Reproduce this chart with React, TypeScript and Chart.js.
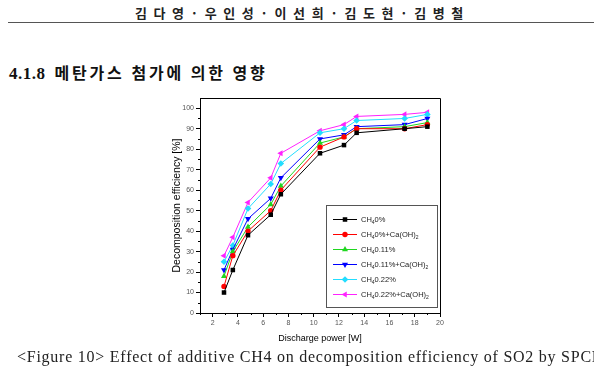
import React, { useEffect, useRef } from "react";
import { Chart, registerables } from "chart.js";

Chart.register(...registerables);

// Discharge power [W] at which each series was measured
const powerW = [2.9, 3.6, 4.8, 6.6, 7.4, 10.5, 12.4, 13.4, 17.2, 19.0];

// Decomposition efficiency [%] for each CH4 condition
const ch4Zero = [10, 21, 38, 48, 58, 78, 82, 88, 90, 91];
const ch4ZeroCaOH2 = [13, 28, 40, 50, 60, 81, 86, 90, 90, 92];
const ch4Low = [18, 30, 42, 53, 62, 83, 86, 90, 91, 93];
const ch4LowCaOH2 = [21, 31, 46, 56, 66, 85, 87, 91, 92, 95];
const ch4High = [25, 33, 51, 63, 73, 88, 90, 94, 95, 97];
const ch4HighCaOH2 = [28, 37, 54, 66, 78, 89, 92, 96, 97, 98];

// "_x" marks a subscript character
const seriesLabels = [
  "CH_40%",
  "CH_40%+Ca(OH)_2",
  "CH_40.11%",
  "CH_40.11%+Ca(OH)_2",
  "CH_40.22%",
  "CH_40.22%+Ca(OH)_2",
];

const xMajorTicks = [2, 4, 6, 8, 10, 12, 14, 16, 18, 20];
const xMinorTicks = [1, 3, 5, 7, 9, 11, 13, 15, 17, 19];
const yMajorTicks = [0, 10, 20, 30, 40, 50, 60, 70, 80, 90, 100];
const yMinorTicks = [5, 15, 25, 35, 45, 55, 65, 75, 85, 95];

const headerText = "김 다 영 · 우 인 성 · 이 선 희 · 김 도 현 · 김 병 철";
const sectionNumber = "4.1.8";
const sectionTitle = "메탄가스 첨가에 의한 영향";
const captionText =
  "<Figure 10> Effect of additive CH4 on decomposition efficiency of SO2 by SPCP";
const xTitle = "Discharge power [W]";
const yTitle = "Decomposition efficiency [%]";

const seriesValues = [ch4Zero, ch4ZeroCaOH2, ch4Low, ch4LowCaOH2, ch4High, ch4HighCaOH2];
const seriesColors = ["#000000", "#ff0000", "#1fd61f", "#0000ff", "#22ddff", "#ff22ff"];
const seriesShapes = ["rect", "circle", "triangle", "triangle", "rectRot", "triangle"];
const seriesRotation = [0, 0, 0, 180, 0, -90];
const seriesRadius = [3.2, 2.7, 3.5, 3.5, 3.3, 3.5];

const SANS = "'Liberation Sans', Arial, sans-serif";

function drawRichText(ctx: CanvasRenderingContext2D, text: string, x: number, y: number) {
  const main = `7.5px ${SANS}`;
  const sub = `5px ${SANS}`;
  let cx = x;
  let i = 0;
  while (i < text.length) {
    if (text[i] === "_" && i + 1 < text.length) {
      ctx.font = sub;
      const s = text[i + 1];
      ctx.fillText(s, cx, y + 3);
      cx += ctx.measureText(s).width;
      i += 2;
      continue;
    }
    let j = i;
    while (j < text.length && text[j] !== "_") j++;
    const seg = text.slice(i, j);
    ctx.font = main;
    ctx.fillText(seg, cx, y);
    cx += ctx.measureText(seg).width;
    i = j;
  }
}

function drawMarker(
  ctx: CanvasRenderingContext2D,
  style: string,
  rotationDeg: number,
  radius: number,
  x: number,
  y: number
) {
  const rad = (rotationDeg * Math.PI) / 180;
  ctx.beginPath();
  if (style === "rect") {
    const s = Math.SQRT1_2 * radius;
    ctx.rect(x - s, y - s, 2 * s, 2 * s);
  } else if (style === "circle") {
    ctx.arc(x, y, radius, 0, Math.PI * 2);
  } else if (style === "rectRot") {
    ctx.moveTo(x, y - radius);
    ctx.lineTo(x + radius, y);
    ctx.lineTo(x, y + radius);
    ctx.lineTo(x - radius, y);
    ctx.closePath();
  } else {
    let r = rad;
    ctx.moveTo(x + Math.sin(r) * radius, y - Math.cos(r) * radius);
    r += (2 * Math.PI) / 3;
    ctx.lineTo(x + Math.sin(r) * radius, y - Math.cos(r) * radius);
    r += (2 * Math.PI) / 3;
    ctx.lineTo(x + Math.sin(r) * radius, y - Math.cos(r) * radius);
    ctx.closePath();
  }
  ctx.fill();
}

const decorPlugin = {
  id: "decor",
  afterDatasetsDraw(chart: any) {
    const { ctx, chartArea: a } = chart;
    // legend box in the lower right of the plot
    const boxW = 111;
    const boxH = 102;
    const bx = a.right - 3 - boxW;
    const by = a.bottom - 6 - boxH;
    ctx.save();
    ctx.fillStyle = "#ffffff";
    ctx.fillRect(bx, by, boxW, boxH);
    ctx.strokeStyle = "#555";
    ctx.lineWidth = 1;
    ctx.strokeRect(Math.round(bx) + 0.5, Math.round(by) + 0.5, boxW, boxH);
    const rowGap = 15;
    const firstRow = by + 14.5;
    chart.data.datasets.forEach((ds: any, k: number) => {
      const ry = firstRow + k * rowGap;
      ctx.strokeStyle = ds.borderColor;
      ctx.lineWidth = 1;
      ctx.beginPath();
      ctx.moveTo(bx + 7, ry);
      ctx.lineTo(bx + 31, ry);
      ctx.stroke();
      ctx.fillStyle = ds.backgroundColor;
      drawMarker(ctx, ds.pointStyle, ds.pointRotation, ds.pointRadius, bx + 19, ry);
      ctx.fillStyle = "#222";
      ctx.textBaseline = "middle";
      ctx.textAlign = "left";
      drawRichText(ctx, seriesLabels[k], bx + 35, ry);
    });
    ctx.restore();
  },
  afterDraw(chart: any) {
    const { ctx, chartArea: a, scales } = chart;
    ctx.save();
    ctx.strokeStyle = "#000";
    ctx.lineWidth = 1;
    ctx.beginPath();
    ctx.moveTo(a.left, Math.round(a.top) + 0.5);
    ctx.lineTo(Math.round(a.right) + 0.5, Math.round(a.top) + 0.5);
    ctx.lineTo(Math.round(a.right) + 0.5, a.bottom);
    ctx.stroke();
    // minor ticks
    ctx.beginPath();
    xMinorTicks.forEach((v) => {
      const px = Math.round(scales.x.getPixelForValue(v)) + 0.5;
      ctx.moveTo(px, a.bottom);
      ctx.lineTo(px, a.bottom + 2);
    });
    yMinorTicks.forEach((v) => {
      const py = Math.round(scales.y.getPixelForValue(v)) + 0.5;
      ctx.moveTo(a.left, py);
      ctx.lineTo(a.left - 2, py);
    });
    ctx.stroke();
    ctx.restore();
  },
};

function EfficiencyChart() {
  const ref = useRef<HTMLCanvasElement | null>(null);
  useEffect(() => {
    if (!ref.current) return;
    const datasets = seriesValues.map((vals, k) => ({
      label: seriesLabels[k],
      data: vals.map((v, i) => ({ x: powerW[i], y: v })),
      borderColor: seriesColors[k],
      backgroundColor: seriesColors[k],
      borderWidth: 1,
      pointStyle: seriesShapes[k],
      pointRotation: seriesRotation[k],
      pointRadius: seriesRadius[k],
      pointBorderWidth: 0,
      tension: 0,
    }));
    const chart = new Chart(ref.current, {
      type: "line",
      data: { datasets },
      plugins: [decorPlugin],
      options: {
        animation: false,
        responsive: false,
        devicePixelRatio: 1,
        layout: { padding: { left: 171, right: 154, top: 98, bottom: 22 } },
        plugins: { legend: { display: false }, tooltip: { enabled: false } },
        scales: {
          x: {
            type: "linear",
            min: 1,
            max: 20,
            afterBuildTicks: (s: any) => {
              s.ticks = xMajorTicks.map((v) => ({ value: v }));
            },
            afterFit: (s: any) => {
              s.height = 31;
            },
            grid: { drawOnChartArea: false, tickLength: 4, color: "#000" },
            border: { color: "#000", width: 1 },
            ticks: { font: { family: SANS, size: 7 }, color: "#555", padding: 2, maxRotation: 0 },
            title: {
              display: true,
              text: xTitle,
              font: { family: SANS, size: 9 },
              color: "#000",
              padding: 0,
            },
          },
          y: {
            type: "linear",
            min: 0,
            max: 105,
            afterBuildTicks: (s: any) => {
              s.ticks = yMajorTicks.map((v) => ({ value: v }));
            },
            afterFit: (s: any) => {
              s.width = 29;
            },
            grid: { drawOnChartArea: false, tickLength: 4, color: "#000" },
            border: { color: "#000", width: 1 },
            ticks: { font: { family: SANS, size: 7 }, color: "#555", padding: 2 },
            title: {
              display: true,
              text: yTitle,
              font: { family: SANS, size: 10.5 },
              color: "#000",
              padding: 0,
            },
          },
        },
      } as any,
    });
    return () => chart.destroy();
  }, []);
  return (
    <canvas
      ref={ref}
      width={594}
      height={366}
      style={{ position: "absolute", left: 0, top: 0, width: 594, height: 366 }}
    />
  );
}

export default function App() {
  return (
    <div
      style={{
        position: "absolute",
        left: 0,
        top: 0,
        width: 594,
        height: 366,
        overflow: "hidden",
        background: "#fff",
      }}
    >
      <div
        style={{
          position: "absolute",
          left: 0,
          width: 600,
          top: 4,
          textAlign: "center",
          fontFamily: "'Noto Sans CJK KR', sans-serif",
          fontWeight: 700,
          fontSize: 13,
          letterSpacing: 1.8,
          color: "#222",
          lineHeight: "18px",
          whiteSpace: "nowrap",
        }}
      >
        {headerText}
      </div>
      <div
        style={{
          position: "absolute",
          left: 8,
          right: 0,
          top: 22,
          height: 0,
          borderTop: "1.5px solid #555",
        }}
      />
      <div
        style={{
          position: "absolute",
          left: 9,
          top: 64,
          fontFamily: "'Liberation Serif', 'Noto Sans CJK KR', serif",
          fontWeight: 700,
          fontSize: 16,
          color: "#111",
          lineHeight: "20px",
          whiteSpace: "nowrap",
        }}
      >
        <span style={{ fontSize: 17, letterSpacing: 0.5 }}>{sectionNumber}</span>{" "}
        <span style={{ letterSpacing: 2.8, marginLeft: 5 }}>{sectionTitle}</span>
      </div>
      <EfficiencyChart />
      <div
        style={{
          position: "absolute",
          left: 17,
          top: 348,
          fontFamily: "'Liberation Serif', serif",
          fontSize: 16,
          letterSpacing: 0.75,
          color: "#222",
          lineHeight: "18px",
          whiteSpace: "nowrap",
        }}
      >
        {captionText}
      </div>
    </div>
  );
}
